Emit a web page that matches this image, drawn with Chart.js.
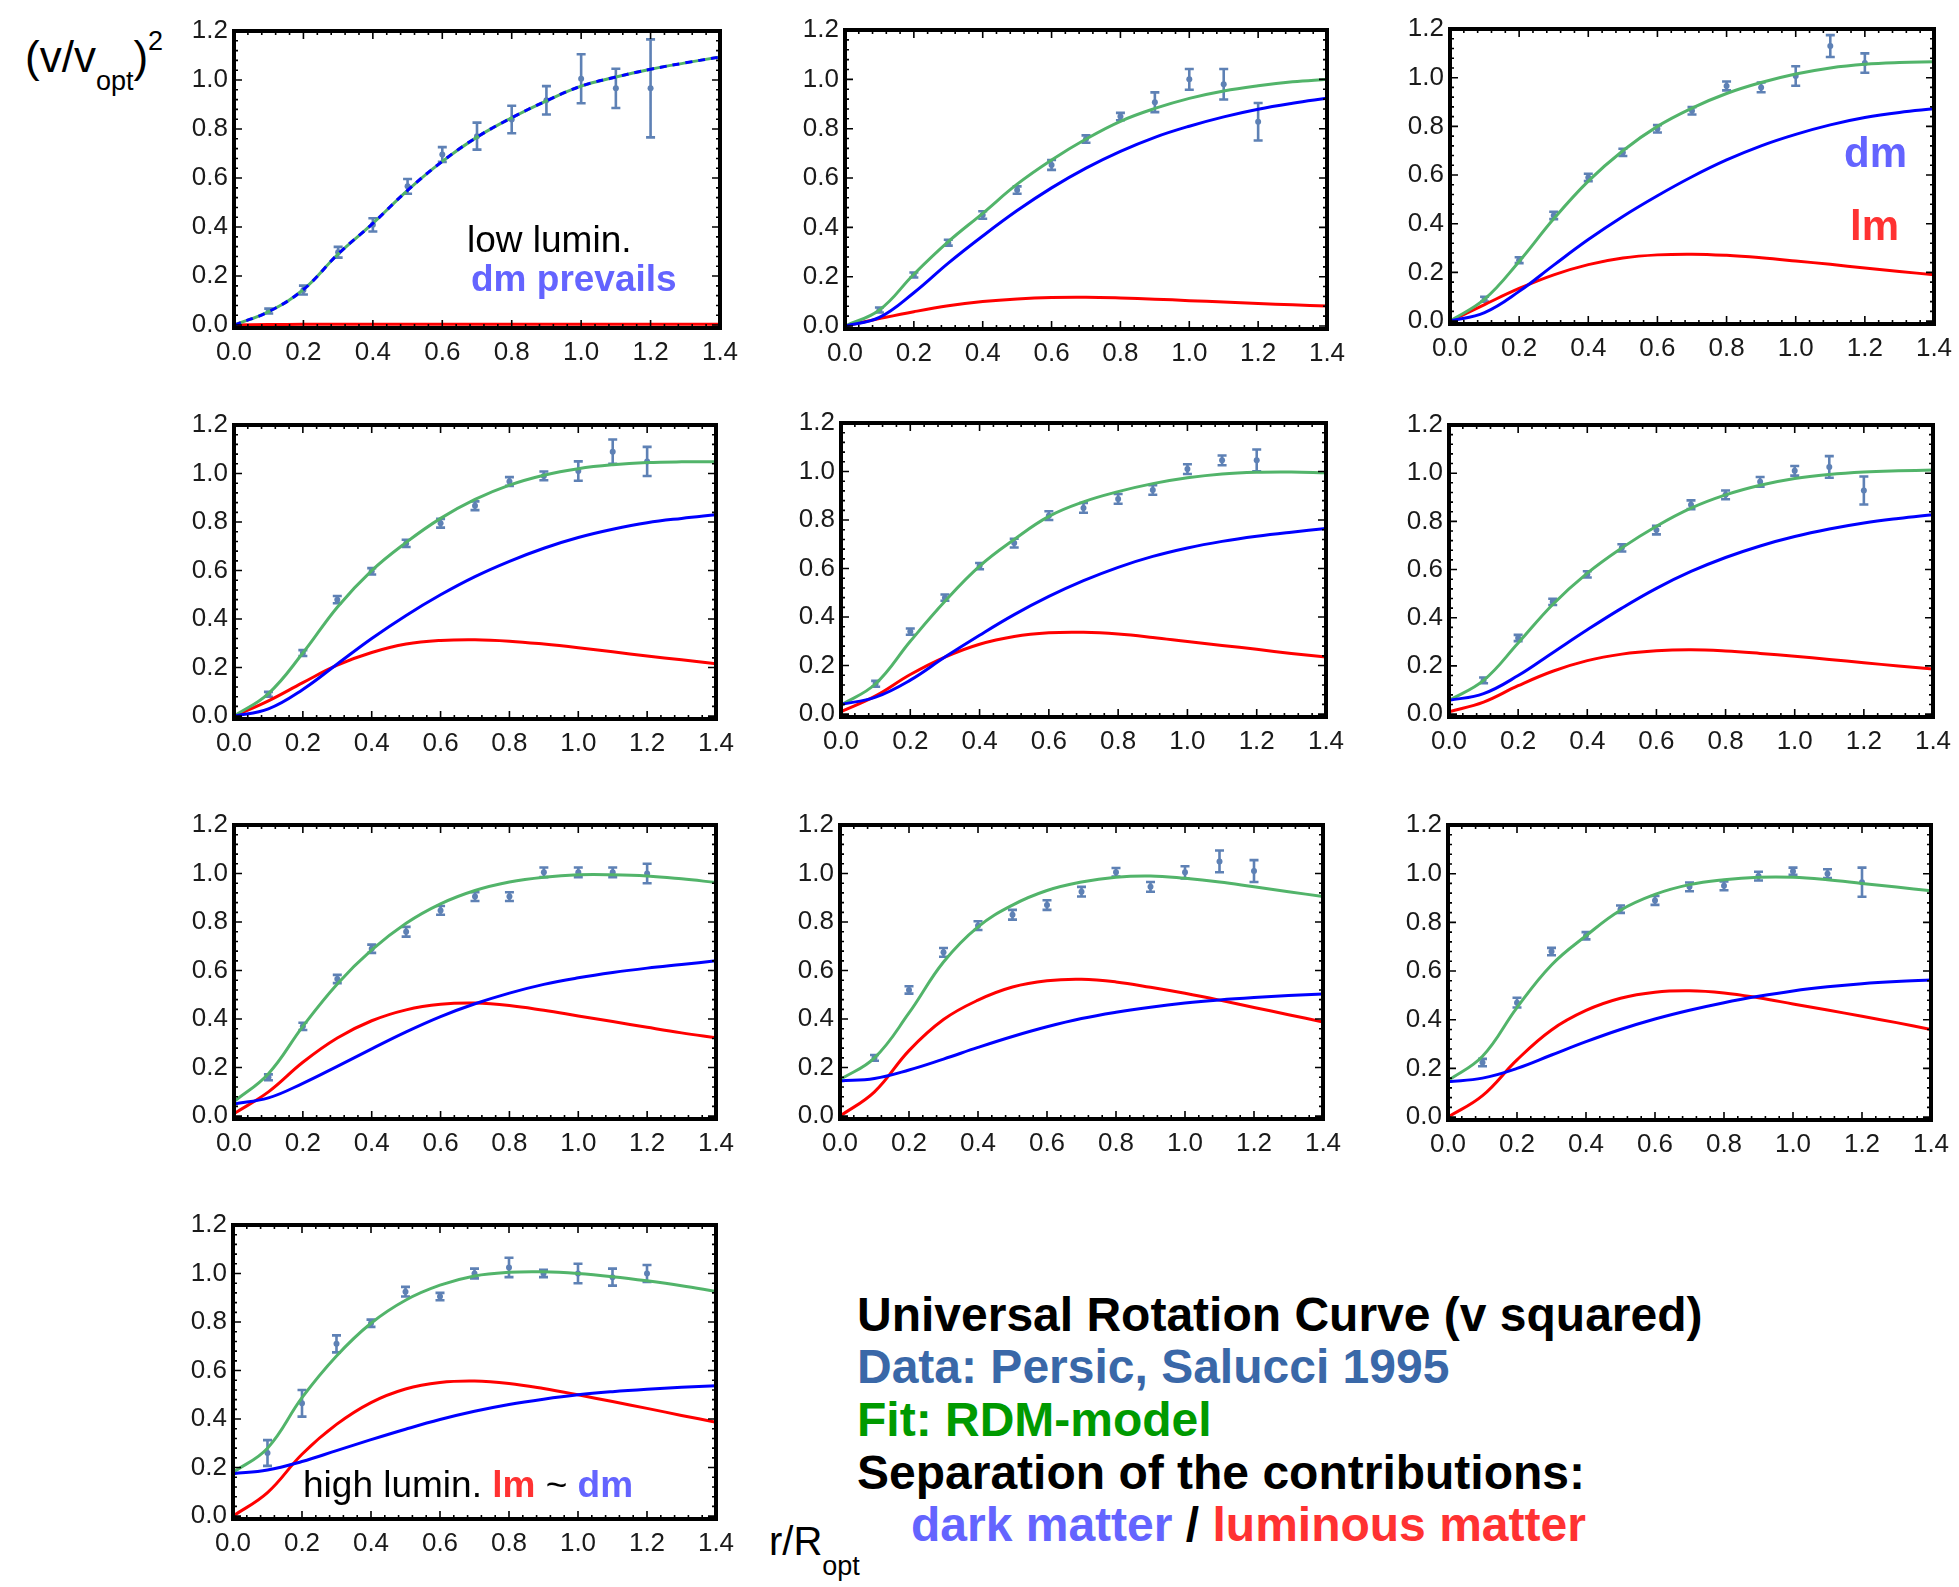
<!DOCTYPE html>
<html>
<head>
<meta charset="utf-8">
<script src="https://cdn.jsdelivr.net/npm/chart.js@4.4.1/dist/chart.umd.min.js"></script>
<style>
  body { margin: 0; width: 1959px; height: 1587px; background: #fff; position: relative; overflow: hidden;
         font-family: "Liberation Sans", Arial, sans-serif; }
  canvas { position: absolute; }
  .t { position: absolute; white-space: nowrap; line-height: 1; }
  .dm { color: #6464ff; font-weight: bold; }
  .lm { color: #ff3232; font-weight: bold; }
</style>
</head>
<body>
<script>
// radius grid of the model curves and of the measured points
const xGrid = [0, 0.1, 0.2, 0.3, 0.4, 0.5, 0.6, 0.7, 0.8, 0.9, 1.0, 1.1, 1.2, 1.3, 1.4];
const xObs = [0.1, 0.2, 0.3, 0.4, 0.5, 0.6, 0.7, 0.8, 0.9, 1.0, 1.1, 1.2];
const xTicks = [0, 0.2, 0.4, 0.6, 0.8, 1.0, 1.2, 1.4];
const yTicks = [0, 0.2, 0.4, 0.6, 0.8, 1.0, 1.2];

// measured (v/vopt)^2, one row per luminosity bin
const obsY = [
  [0.057, 0.143, 0.297, 0.409, 0.566, 0.696, 0.771, 0.839, 0.917, 1.005, 0.966, 0.966],
  [0.065, 0.207, 0.338, 0.45, 0.551, 0.653, 0.758, 0.849, 0.907, 1.0, 0.98, 0.828],
  [0.09, 0.25, 0.434, 0.59, 0.693, 0.79, 0.864, 0.966, 0.96, 1.007, 1.13, 1.06],
  [0.09, 0.26, 0.48, 0.597, 0.712, 0.795, 0.867, 0.967, 0.99, 1.01, 1.09, 1.05],
  [0.125, 0.34, 0.48, 0.61, 0.705, 0.818, 0.85, 0.887, 0.924, 1.01, 1.046, 1.046],
  [0.14, 0.316, 0.466, 0.58, 0.69, 0.764, 0.869, 0.91, 0.964, 1.01, 1.026, 0.928],
  [0.16, 0.37, 0.565, 0.69, 0.76, 0.848, 0.905, 0.905, 1.005, 1.005, 1.005, 1.0],
  [0.24, 0.52, 0.675, 0.785, 0.83, 0.87, 0.925, 1.005, 0.945, 1.005, 1.05, 1.01],
  [0.224, 0.47, 0.68, 0.745, 0.854, 0.89, 0.946, 0.95, 0.99, 1.01, 1.0, 0.965],
  [0.26, 0.465, 0.71, 0.795, 0.925, 0.905, 1.0, 1.025, 1.0, 1.0, 0.985, 1.0]
];
const obsErr = [
  [0.01, 0.018, 0.022, 0.027, 0.03, 0.03, 0.055, 0.056, 0.058, 0.1, 0.08, 0.2],
  [0.01, 0.01, 0.012, 0.015, 0.015, 0.02, 0.015, 0.015, 0.04, 0.042, 0.062, 0.076],
  [0.01, 0.012, 0.015, 0.015, 0.015, 0.015, 0.015, 0.018, 0.02, 0.04, 0.045, 0.04],
  [0.01, 0.012, 0.015, 0.013, 0.015, 0.018, 0.018, 0.018, 0.018, 0.04, 0.05, 0.06],
  [0.012, 0.013, 0.013, 0.013, 0.018, 0.018, 0.02, 0.02, 0.02, 0.02, 0.02, 0.045],
  [0.012, 0.013, 0.013, 0.013, 0.015, 0.018, 0.018, 0.018, 0.02, 0.02, 0.045, 0.058],
  [0.012, 0.015, 0.017, 0.017, 0.02, 0.018, 0.018, 0.018, 0.02, 0.02, 0.02, 0.04],
  [0.012, 0.015, 0.018, 0.018, 0.02, 0.02, 0.02, 0.018, 0.02, 0.025, 0.045, 0.045],
  [0.015, 0.02, 0.015, 0.015, 0.015, 0.018, 0.018, 0.018, 0.018, 0.015, 0.018, 0.06],
  [0.053, 0.055, 0.035, 0.015, 0.02, 0.015, 0.02, 0.04, 0.015, 0.04, 0.035, 0.035]
];

// RDM fit (green), dark matter part (blue), luminous part (red) on xGrid
const fitCurve = [
  [0, 0.055, 0.145, 0.29, 0.415, 0.55, 0.668, 0.767, 0.846, 0.915, 0.975, 1.012, 1.044, 1.07, 1.094],
  [0, 0.065, 0.21, 0.342, 0.457, 0.575, 0.673, 0.758, 0.83, 0.882, 0.923, 0.953, 0.974, 0.99, 1.0],
  [0, 0.09, 0.245, 0.42, 0.575, 0.70, 0.80, 0.875, 0.935, 0.98, 1.015, 1.04, 1.055, 1.062, 1.065],
  [0, 0.093, 0.26, 0.449, 0.6, 0.716, 0.815, 0.893, 0.952, 0.993, 1.02, 1.036, 1.045, 1.048, 1.048],
  [0.037, 0.125, 0.30, 0.465, 0.61, 0.72, 0.815, 0.875, 0.917, 0.95, 0.974, 0.99, 0.997, 0.998, 0.995],
  [0.057, 0.14, 0.295, 0.455, 0.585, 0.69, 0.78, 0.855, 0.91, 0.95, 0.978, 0.995, 1.005, 1.01, 1.013],
  [0.06, 0.175, 0.37, 0.545, 0.685, 0.795, 0.875, 0.93, 0.965, 0.985, 0.995, 0.995, 0.99, 0.978, 0.963],
  [0.15, 0.24, 0.425, 0.635, 0.78, 0.87, 0.93, 0.965, 0.985, 0.99, 0.98, 0.965, 0.945, 0.925, 0.905],
  [0.15, 0.25, 0.45, 0.625, 0.745, 0.85, 0.915, 0.955, 0.975, 0.985, 0.985, 0.975, 0.96, 0.945, 0.93],
  [0.18, 0.28, 0.488, 0.66, 0.795, 0.89, 0.952, 0.99, 1.005, 1.007, 1.0, 0.987, 0.97, 0.95, 0.926]
];
const dmCurve = [
  [0, 0.055, 0.145, 0.29, 0.415, 0.55, 0.668, 0.767, 0.846, 0.915, 0.975, 1.012, 1.044, 1.07, 1.094],
  [0, 0.035, 0.135, 0.255, 0.365, 0.468, 0.56, 0.64, 0.708, 0.765, 0.81, 0.848, 0.879, 0.903, 0.923],
  [0, 0.035, 0.122, 0.23, 0.335, 0.43, 0.515, 0.593, 0.662, 0.72, 0.767, 0.806, 0.836, 0.857, 0.872],
  [0, 0.03, 0.11, 0.215, 0.32, 0.415, 0.5, 0.575, 0.638, 0.692, 0.736, 0.77, 0.797, 0.815, 0.83],
  [0.04, 0.07, 0.14, 0.235, 0.325, 0.41, 0.485, 0.55, 0.605, 0.65, 0.685, 0.712, 0.733, 0.75, 0.765],
  [0.057, 0.085, 0.16, 0.255, 0.35, 0.44, 0.522, 0.592, 0.65, 0.698, 0.737, 0.768, 0.793, 0.812, 0.828],
  [0.05, 0.075, 0.135, 0.205, 0.277, 0.347, 0.41, 0.463, 0.507, 0.543, 0.57, 0.592, 0.61, 0.625, 0.64],
  [0.145, 0.155, 0.19, 0.235, 0.283, 0.328, 0.368, 0.402, 0.428, 0.449, 0.466, 0.479, 0.489, 0.497, 0.503],
  [0.145, 0.16, 0.2, 0.255, 0.31, 0.36, 0.403, 0.439, 0.47, 0.496, 0.518, 0.535, 0.548, 0.557, 0.563],
  [0.175, 0.19, 0.225, 0.27, 0.315, 0.358, 0.398, 0.432, 0.46, 0.482, 0.5, 0.513, 0.523, 0.531, 0.537]
];
const lmCurve = [
  [0, 0.002, 0.003, 0.003, 0.003, 0.003, 0.003, 0.003, 0.003, 0.003, 0.003, 0.003, 0.003, 0.003, 0.003],
  [0, 0.03, 0.058, 0.082, 0.099, 0.11, 0.116, 0.117, 0.114, 0.109, 0.103, 0.097, 0.091, 0.086, 0.081],
  [0, 0.068, 0.134, 0.19, 0.232, 0.259, 0.272, 0.275, 0.27, 0.26, 0.247, 0.233, 0.218, 0.204, 0.19],
  [0, 0.063, 0.138, 0.21, 0.262, 0.297, 0.312, 0.315, 0.309, 0.297, 0.282, 0.265, 0.248, 0.232, 0.216],
  [0.01, 0.075, 0.163, 0.235, 0.288, 0.32, 0.335, 0.337, 0.33, 0.316, 0.299, 0.283, 0.267, 0.25, 0.235],
  [0.01, 0.05, 0.118, 0.178, 0.222, 0.249, 0.263, 0.267, 0.262, 0.252, 0.24, 0.227, 0.213, 0.2, 0.187],
  [0.01, 0.1, 0.222, 0.322, 0.393, 0.438, 0.461, 0.466, 0.456, 0.436, 0.413, 0.39, 0.366, 0.343, 0.323],
  [0, 0.1, 0.27, 0.398, 0.478, 0.532, 0.558, 0.564, 0.553, 0.531, 0.506, 0.478, 0.448, 0.418, 0.388],
  [0, 0.088, 0.235, 0.358, 0.438, 0.488, 0.513, 0.519, 0.51, 0.49, 0.465, 0.44, 0.414, 0.388, 0.36],
  [0, 0.097, 0.255, 0.378, 0.468, 0.524, 0.551, 0.557, 0.547, 0.526, 0.5, 0.472, 0.444, 0.415, 0.387]
];

// page position of every panel: x of r=0, x of r=1.4, y of 1.2, y of 0
const frames = [
  [234, 720, 31, 325], [845, 1327, 30, 326], [1450, 1934, 29, 321],
  [234, 716, 425, 716], [841, 1326, 423, 714], [1449, 1933, 425, 714],
  [234, 716, 825, 1116], [840, 1323, 825, 1116], [1448, 1931, 825, 1117],
  [233, 716, 1225, 1516]
];

const FONT = '"Liberation Sans", Arial, sans-serif';
const DATA_COLOR = 'rgb(94,129,181)';
const Y_MIN = -0.012;

const errorBars = {
  id: 'errorBars',
  beforeDatasetsDraw(chart) {
    const { ctx, scales: { x, y } } = chart;
    chart.data.datasets.forEach(ds => {
      if (!ds.errors) return;
      ctx.save();
      ctx.strokeStyle = DATA_COLOR;
      ctx.lineWidth = 2.6;
      ctx.beginPath();
      ds.data.forEach((p, i) => {
        const px = x.getPixelForValue(p.x);
        const top = y.getPixelForValue(p.y + ds.errors[i]);
        const bot = y.getPixelForValue(p.y - ds.errors[i]);
        ctx.moveTo(px, top); ctx.lineTo(px, bot);
        ctx.moveTo(px - 4.5, top); ctx.lineTo(px + 4.5, top);
        ctx.moveTo(px - 4.5, bot); ctx.lineTo(px + 4.5, bot);
      });
      ctx.stroke();
      ctx.restore();
    });
  }
};

// Mathematica style frame with inward ticks on all four sides
const frameTicks = {
  id: 'frameTicks',
  afterDraw(chart) {
    const { ctx, chartArea: a, scales: { x, y } } = chart;
    ctx.save();
    ctx.strokeStyle = '#000';
    ctx.lineWidth = 1.6;
    ctx.beginPath();
    for (let k = 0; k <= 35; k++) {
      const len = k % 5 === 0 ? 8 : 4;
      const px = x.getPixelForValue(k * 0.04);
      ctx.moveTo(px, a.bottom); ctx.lineTo(px, a.bottom - len);
      ctx.moveTo(px, a.top); ctx.lineTo(px, a.top + len);
    }
    for (let k = 0; k <= 30; k++) {
      const len = k % 5 === 0 ? 8 : 4;
      const py = y.getPixelForValue(k * 0.04);
      ctx.moveTo(a.left, py); ctx.lineTo(a.left + len, py);
      ctx.moveTo(a.right, py); ctx.lineTo(a.right - len, py);
    }
    ctx.stroke();
    ctx.lineWidth = 4;
    ctx.strokeRect(a.left, a.top, a.right - a.left, a.bottom - a.top);
    ctx.restore();
  }
};

function curve(xs, ys) {
  return xs.map((x, k) => ({ x: x, y: ys[k] }));
}

frames.forEach((f, i) => {
  const [l, r, t, b] = f;
  const unit = (b - t) / 1.2;
  const plotW = r - l;
  const plotH = Math.round(b - Y_MIN * unit - t);
  const padL = 70, padT = 24, padR = 36, padB = 52;

  const cv = document.createElement('canvas');
  cv.width = padL + plotW + padR;
  cv.height = padT + plotH + padB;
  cv.style.left = (l - padL) + 'px';
  cv.style.top = (t - padT) + 'px';
  document.body.appendChild(cv);

  const line = (ys, color, dash) => ({
    data: curve(xGrid, ys),
    borderColor: color,
    borderWidth: 3,
    borderDash: dash || [],
    pointRadius: 0,
    fill: false,
    tension: 0.4
  });

  new Chart(cv, {
    type: 'line',
    data: {
      datasets: [
        line(dmCurve[i], '#0000ff', i === 0 ? [7, 6] : null),
        line(fitCurve[i], '#52b46a'),
        line(lmCurve[i], '#ff0000'),
        {
          data: curve(xObs, obsY[i]),
          errors: obsErr[i],
          showLine: false,
          pointRadius: 3,
          pointBorderWidth: 0,
          pointBackgroundColor: DATA_COLOR,
          borderColor: DATA_COLOR
        }
      ]
    },
    options: {
      responsive: false,
      animation: false,
      devicePixelRatio: 1,
      layout: { padding: { left: 0, top: padT, right: padR, bottom: 0 } },
      plugins: { legend: { display: false }, tooltip: { enabled: false } },
      scales: {
        x: {
          type: 'linear',
          min: 0,
          max: 1.4,
          afterBuildTicks: s => { s.ticks = xTicks.map(v => ({ value: v })); },
          afterFit: s => { s.height = padB; s.paddingLeft = 0; s.paddingRight = 0; },
          grid: { display: false, drawTicks: false },
          border: { display: false },
          ticks: {
            padding: 9,
            maxRotation: 0,
            autoSkip: false,
            color: '#1a1a1a',
            font: { family: FONT, size: 26 },
            callback: v => v.toFixed(1)
          }
        },
        y: {
          min: Y_MIN,
          max: 1.2,
          afterBuildTicks: s => { s.ticks = yTicks.map(v => ({ value: v })); },
          afterFit: s => { s.width = padL; s.paddingTop = 0; s.paddingBottom = 0; },
          grid: { display: false, drawTicks: false },
          border: { display: false },
          ticks: {
            padding: 6,
            color: '#1a1a1a',
            font: { family: FONT, size: 26 },
            callback: v => v.toFixed(1)
          }
        }
      }
    },
    plugins: [errorBars, frameTicks]
  });
});

// text placed by its baseline
function put(html, x, base, size, style) {
  const d = document.createElement('div');
  d.className = 't';
  d.style.left = x + 'px';
  d.style.top = (base - 0.8465 * size) + 'px';
  d.style.fontSize = size + 'px';
  if (style) d.style.cssText += style;
  d.innerHTML = html;
  document.body.appendChild(d);
}

put('(v/v<span style="font-size:27px;position:relative;top:18px">opt</span>)<span style="font-size:27px;position:relative;top:-22px">2</span>', 25, 72, 44);
put('r/R<span style="font-size:27px;position:relative;top:20px">opt</span>', 769, 1555, 40);

put('low lumin.', 467, 252, 37);
put('<span class="dm">dm prevails</span>', 471, 291, 37);
put('<span class="dm">dm</span>', 1844, 168, 42);
put('<span class="lm">lm</span>', 1850, 241, 42);
put('high lumin. <span class="lm">lm</span> ~ <span class="dm">dm</span>', 303, 1497, 37);

put('Universal Rotation Curve (v squared)', 857, 1332, 48, 'font-weight:bold;color:#000');
put('Data: Persic, Salucci 1995', 857, 1384, 48, 'font-weight:bold;color:#3a68a8');
put('Fit: RDM-model', 857, 1437, 48, 'font-weight:bold;color:#009a00');
put('Separation of the contributions:', 857, 1490, 48, 'font-weight:bold;color:#000');
put('<span style="color:#6464ff">dark matter</span> / <span style="color:#ff3232">luminous matter</span>', 911, 1542, 48, 'font-weight:bold;color:#000');
</script>
</body>
</html>
